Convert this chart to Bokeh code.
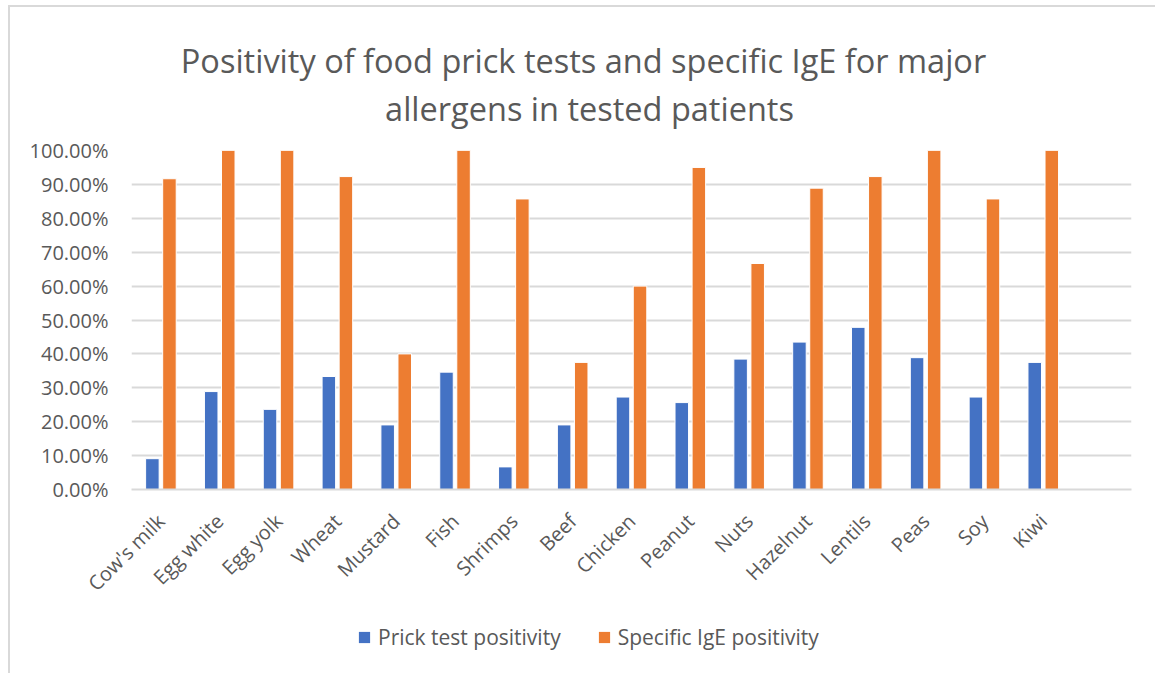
from bokeh.plotting import figure
from bokeh.layouts import column
from bokeh.models import (ColumnDataSource, FactorRange, NumeralTickFormatter, FixedTicker,
                          Legend, LegendItem, Label, Range1d, InlineStyleSheet)
from bokeh.transform import dodge
from bokeh.embed import file_html
from bokeh.resources import INLINE
import math

categories = ["Cow's milk", "Egg white", "Egg yolk", "Wheat", "Mustard", "Fish", "Shrimps", "Beef",
              "Chicken", "Peanut", "Nuts", "Hazelnut", "Lentils", "Peas", "Soy", "Kiwi"]
prick = [0.0909, 0.2889, 0.2364, 0.3333, 0.1905, 0.3462, 0.0667, 0.1905,
         0.2727, 0.2564, 0.3846, 0.4348, 0.4783, 0.3889, 0.2727, 0.3750]
ige = [0.9167, 1.0, 1.0, 0.9231, 0.4000, 1.0, 0.8571, 0.3750,
       0.6000, 0.9500, 0.6667, 0.8889, 0.9231, 1.0, 0.8571, 1.0]
series = ["Prick test positivity", "Specific IgE positivity"]
colors = ["#4472C4", "#ED7D31"]
y_ticks = [i / 10 for i in range(11)]
title_lines = ["Positivity of food prick tests and specific IgE for major",
               "allergens in tested patients"]

FONT = "Open Sans"
GREY = "#595959"
GRID = "#d9d9d9"


def strip(height):
    f = figure(width=1155, height=height, output_backend="svg", toolbar_location=None,
               x_range=Range1d(131, 1131), y_range=Range1d(height, 0),
               min_border_left=0, min_border_right=0, min_border_top=0, min_border_bottom=0)
    f.axis.visible = False
    f.grid.visible = False
    f.outline_line_color = None
    f.background_fill_color = None
    f.border_fill_color = None
    return f


# ---- Title strip (page y 0..135) ----
p0 = strip(135)
p0.add_layout(Label(x=583, y=60, text=title_lines[0], text_align="center",
                    text_baseline="alphabetic", text_font=FONT, text_font_size="32.5px",
                    text_color=GREY))
p0.add_layout(Label(x=589, y=108, text=title_lines[1], text_align="center",
                    text_baseline="alphabetic", text_font=FONT, text_font_size="32.5px",
                    text_color=GREY))

# ---- Chart ----
source = ColumnDataSource(data=dict(cat=categories, prick=prick, ige=ige))

p = figure(width=1155, height=475, output_backend="svg", toolbar_location=None,
           x_range=FactorRange(factors=categories + [" "], range_padding=0),
           y_range=(0, 1.0),
           min_border_left=131, min_border_right=24, min_border_top=15, min_border_bottom=121)

p.outline_line_color = None
p.background_fill_color = "white"
p.border_fill_color = None

p.vbar(x=dodge("cat", -0.145, range=p.x_range), top="prick", width=0.23, source=source,
       fill_color=colors[0], line_color="white", line_width=1)
p.vbar(x=dodge("cat", 0.145, range=p.x_range), top="ige", width=0.23, source=source,
       fill_color=colors[1], line_color="white", line_width=1)

p.yaxis.ticker = FixedTicker(ticks=y_ticks)
p.yaxis.formatter = NumeralTickFormatter(format="0.00%")
p.yaxis.axis_line_color = None
p.yaxis.major_tick_line_color = None
p.yaxis.minor_tick_line_color = None
p.yaxis.major_label_text_font = FONT
p.yaxis.major_label_text_font_size = "20px"
p.yaxis.major_label_text_color = GREY
p.yaxis.major_label_standoff = 17

p.xaxis.axis_line_color = GRID
p.xaxis.axis_line_width = 2
p.xaxis.major_tick_line_color = None
p.xaxis.minor_tick_line_color = None
p.xaxis.major_label_orientation = math.pi / 4
p.xaxis.major_label_text_font = FONT
p.xaxis.major_label_text_font_size = "20px"
p.xaxis.major_label_text_color = GREY
p.xaxis.major_label_standoff = 22

p.xgrid.grid_line_color = None
p.ygrid.ticker = FixedTicker(ticks=y_ticks)
p.ygrid.grid_line_color = GRID
p.ygrid.grid_line_width = 2

# ---- Legend strip ----
p2 = strip(63)
dummy = ColumnDataSource(data=dict(x=[-1000], top=[-1000]))
l1 = p2.vbar(x="x", top="top", width=1, source=dummy, fill_color=colors[0], line_color=None)
l2 = p2.vbar(x="x", top="top", width=1, source=dummy, fill_color=colors[1], line_color=None)
legend = Legend(items=[LegendItem(label=series[0], renderers=[l1]),
                       LegendItem(label=series[1], renderers=[l2])],
                orientation="horizontal", location=(226, 22),
                label_text_font=FONT, label_text_font_size="21px", label_text_color=GREY,
                glyph_width=14, glyph_height=14, label_standoff=7, spacing=36,
                padding=0, margin=0, border_line_color=None, background_fill_alpha=0)
p2.add_layout(legend, "center")

layout = column(p0, p, p2, spacing=0)
layout.stylesheets = [InlineStyleSheet(css=(
    ":host { position: relative; background: white; }"
    ":host::after { content: ''; position: absolute; left: 8px; top: 5px; right: 0; bottom: 0;"
    " border-left: 2px solid #d9d9d9; border-top: 2px solid #d9d9d9; pointer-events: none; }"
))]

open("out.html", "w").write(file_html(layout, INLINE))
